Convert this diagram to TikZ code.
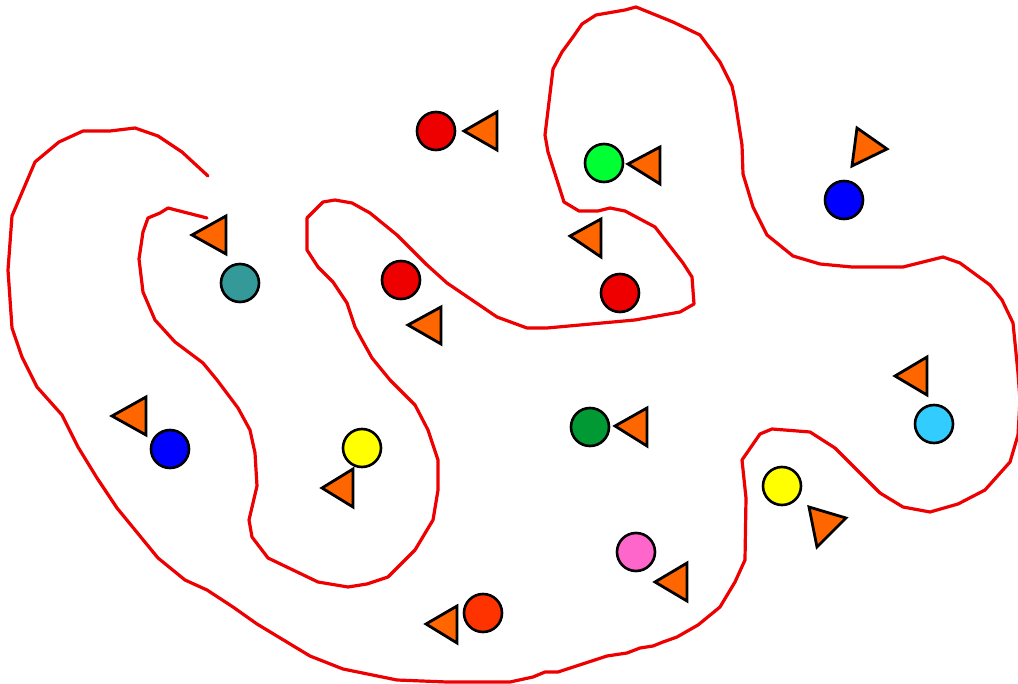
\documentclass[tikz,border=0pt]{standalone}
\usepackage{tikz}
\definecolor{curvered}{RGB}{238,0,0}
\definecolor{tri}{RGB}{255,102,0}
\definecolor{cred}{RGB}{238,0,0}
\definecolor{cgreen}{RGB}{0,255,51}
\definecolor{cblue}{RGB}{0,0,255}
\definecolor{cteal}{RGB}{51,153,153}
\definecolor{cyellow}{RGB}{255,255,0}
\definecolor{cdgreen}{RGB}{0,153,51}
\definecolor{ccyan}{RGB}{51,204,255}
\definecolor{cpink}{RGB}{255,102,204}
\definecolor{corange}{RGB}{255,51,0}
\tikzset{
  ball/.style={circle, draw=black, line width=2.6pt, minimum size=38pt, inner sep=0pt},
  trishape/.style={draw=black, fill=tri, line width=2.8pt, line join=miter},
  boundary/.style={draw=curvered, line width=3.2pt, line join=round, line cap=round}
}
\begin{document}
\begin{tikzpicture}[x=1pt,y=-1pt]
\useasboundingbox (0,0) rectangle (1018,684);
\clip (0,0) rectangle (1018,684);
\fill[white] (0,0) rectangle (1018,684);

% boundary curve
\draw[boundary] (208,176) -- (182,152) -- (158,136) -- (135,128) -- (110,131) -- (83,131)
 -- (59,142) -- (35,162) -- (12,216) -- (8,270) -- (12,328) -- (22,357) -- (37,387)
 -- (62,415) -- (78,447) -- (97,478) -- (117,508) -- (158,558) -- (185,580) -- (207,590)
 -- (233,607) -- (257,624) -- (310,656) -- (343,669) -- (397,680) -- (447,682) -- (510,682)
 -- (533,677) -- (545,672) -- (558,672) -- (607,656) -- (627,653) -- (640,648) -- (653,646)
 -- (663,642) -- (677,637) -- (698,625) -- (720,607) -- (735,582) -- (745,560) -- (746,498)
 -- (742,460) -- (760,434) -- (772,429) -- (810,432) -- (835,448) -- (880,493) -- (903,507)
 -- (930,512) -- (958,504) -- (985,490) -- (1010,462) -- (1018,435) -- (1020,400)
 -- (1018,373) -- (1013,323) -- (1002,300) -- (990,285) -- (960,263) -- (943,257)
 -- (903,267) -- (852,267) -- (820,264) -- (793,256) -- (767,235) -- (753,207) -- (743,174)
 -- (742,145) -- (735,100) -- (732,86) -- (720,62) -- (700,35) -- (673,22) -- (636,7)
 -- (625,10) -- (596,15) -- (582,24) -- (573,37) -- (562,52) -- (553,69) -- (545,135)
 -- (548,152) -- (564,202) -- (579,211) -- (598,211) -- (610,208) -- (625,211) -- (655,227)
 -- (683,263) -- (692,277) -- (694,304) -- (680,312) -- (635,320) -- (547,328) -- (527,328)
 -- (497,317) -- (447,283) -- (427,265) -- (397,235) -- (370,213) -- (352,203) -- (335,200)
 -- (323,202) -- (307,218) -- (307,250) -- (318,267) -- (333,282) -- (347,303) -- (355,327)
 -- (362,340) -- (372,358) -- (390,380) -- (415,405) -- (428,430) -- (438,460) -- (438,490)
 -- (433,520) -- (415,550) -- (388,577) -- (367,584) -- (348,587) -- (318,582) -- (268,558)
 -- (252,537) -- (249,520) -- (257,486) -- (255,453) -- (250,430) -- (238,408) -- (217,380)
 -- (203,363) -- (175,342) -- (155,320) -- (143,292) -- (139,259) -- (143,232) -- (148,218)
 -- (160,213) -- (168,208) -- (207,218);

% circles
\node[ball, fill=cred]    (c1)  at (436,131) {};
\node[ball, fill=cgreen]  (c2)  at (604,163) {};
\node[ball, fill=cblue]   (c3)  at (844,200) {};
\node[ball, fill=cteal]   (c4)  at (240,283) {};
\node[ball, fill=cred]    (c5)  at (401,280) {};
\node[ball, fill=cred]    (c6)  at (620,293) {};
\node[ball, fill=cblue]   (c7)  at (170,449) {};
\node[ball, fill=cyellow] (c8)  at (362,448) {};
\node[ball, fill=cdgreen] (c9)  at (590,427) {};
\node[ball, fill=ccyan]   (c10) at (934,424) {};
\node[ball, fill=cyellow] (c11) at (782,486) {};
\node[ball, fill=cpink]   (c12) at (636,552) {};
\node[ball, fill=corange] (c13) at (483,613) {};

% triangles
\draw[trishape] (464,131) -- (497,112) -- (497,150) -- cycle;
\draw[trishape] (628,164) -- (660,147) -- (660,184) -- cycle;
\draw[trishape] (570,236) -- (601,219) -- (601,257) -- cycle;
\draw[trishape] (408,325) -- (441,307) -- (441,344) -- cycle;
\draw[trishape] (192,235) -- (226,216) -- (226,254) -- cycle;
\draw[trishape] (112,416) -- (146,397) -- (146,435) -- cycle;
\draw[trishape] (322,488) -- (353,469) -- (353,507) -- cycle;
\draw[trishape] (426,624) -- (457,606) -- (457,643) -- cycle;
\draw[trishape] (615,426) -- (647,408) -- (647,446) -- cycle;
\draw[trishape] (655,582) -- (687,563) -- (687,601) -- cycle;
\draw[trishape] (895,376) -- (927,357) -- (927,395) -- cycle;
\draw[trishape] (857,128) -- (887,149) -- (852,166) -- cycle;
\draw[trishape] (809,507) -- (846,518) -- (817,547) -- cycle;
\end{tikzpicture}
\end{document}
